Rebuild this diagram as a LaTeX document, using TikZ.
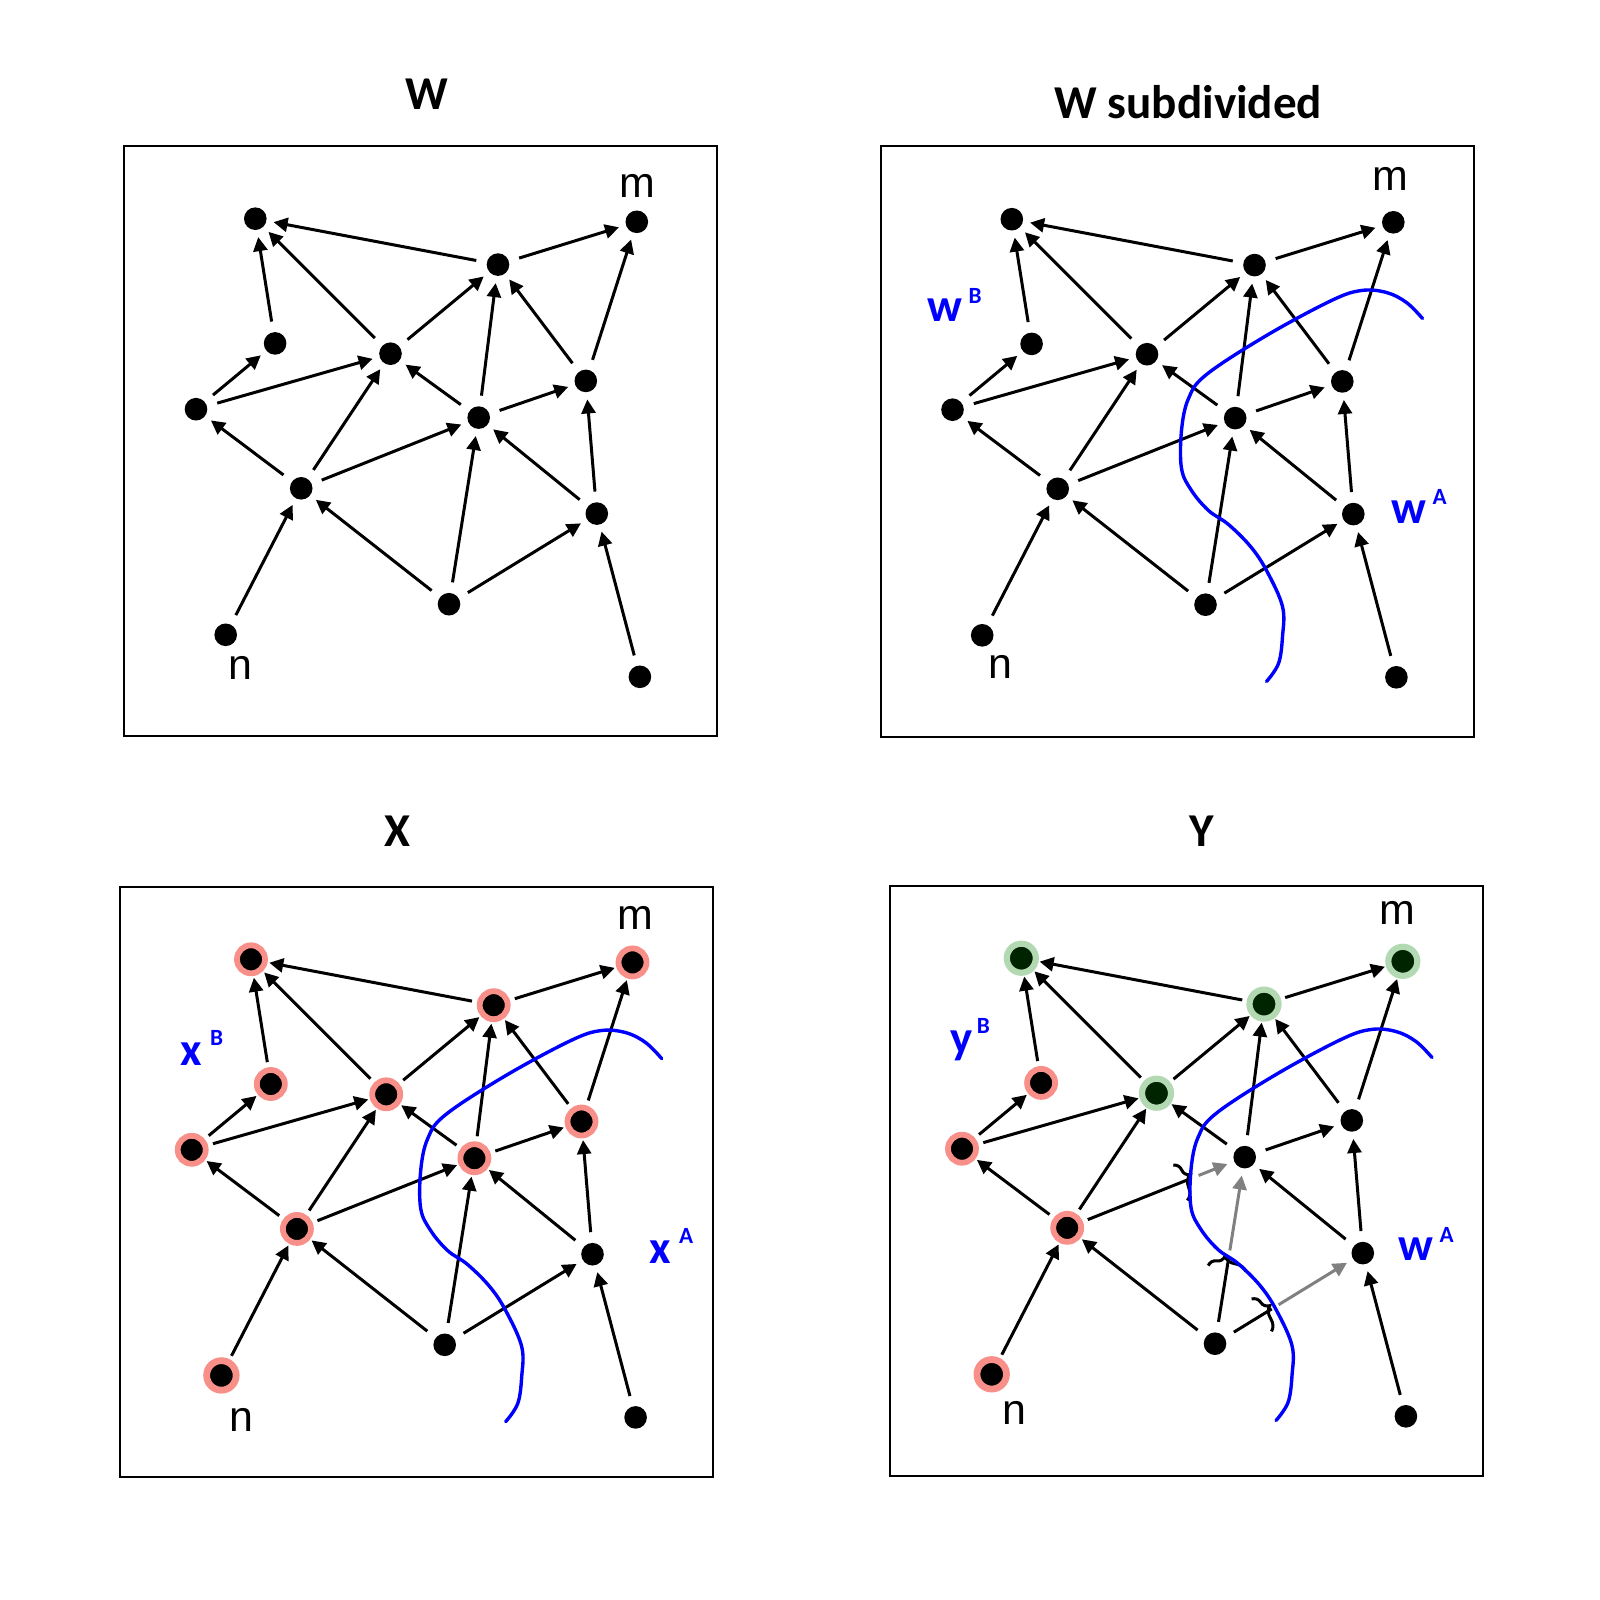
\documentclass[tikz,border=0pt]{standalone}
\usepackage{fontspec}
\setmainfont{Liberation Sans}
\newfontfamily\titrefont{Carlito}
\usetikzlibrary{arrows.meta,calc,decorations.pathreplacing}
\definecolor{RougeHalo}{RGB}{248,143,137}
\definecolor{VertHalo}{RGB}{178,217,178}
\definecolor{VertFonce}{RGB}{0,36,0}
\definecolor{GrisFleche}{RGB}{128,128,128}
\definecolor{BleuTrait}{RGB}{0,0,255}

\begin{document}
\begin{tikzpicture}[x=0.01cm,y=-0.01cm]
    \tikzset{PointStyle/.style =   {circle,fill=black,inner sep=0pt,minimum size=0.226cm,outer sep=0.108cm}}
    \tikzset{HaloRouge/.style =   {PointStyle,draw=RougeHalo,line width=0.058cm,minimum size=0.28cm,outer sep=0.081cm}}
    \tikzset{HaloRougeN/.style =   {PointStyle,draw=RougeHalo,line width=0.068cm,minimum size=0.295cm,outer sep=0.073cm}}
    \tikzset{HaloVert/.style =   {PointStyle,fill=VertFonce,draw=VertHalo,line width=0.062cm,minimum size=0.29cm,outer sep=0.076cm}}
    \tikzset{FlecheStyle/.style =   {line width=0.03cm,color=#1,shorten >=-0.035cm,-{Triangle[length=0.14cm,width=0.14cm]}}}
    \tikzset{Accolade/.style =   {line width=0.03cm,decorate,decoration={brace,amplitude=0.12cm,aspect=0.4}}}
    \tikzset{CourbeBleue/.style =   {line width=0.034cm,color=BleuTrait,line cap=round}}
    \tikzset{Cadre/.style =   {line width=0.02cm}}
    \tikzset{Titre/.style =   {inner sep=0pt,anchor=base,font=\titrefont\bfseries\fontsize{13.4}{16}\selectfont}}
    \tikzset{Lettre/.style =   {inner sep=0pt,font=\fontsize{12.2}{14}\selectfont}}
    \tikzset{Indice/.style =   {inner sep=0pt,anchor=base west,text=BleuTrait,font=\titrefont\bfseries\fontsize{13.3}{15}\selectfont}}
    % halos de X et Y
    \tikzset{x-a/.style=HaloRouge, x-b/.style=HaloRouge, x-m/.style=HaloRouge, x-c/.style=HaloRouge, x-d/.style=HaloRouge,
             x-e/.style=HaloRouge, x-f/.style=HaloRouge, x-g/.style=HaloRouge, x-h/.style=HaloRouge, x-n/.style=HaloRougeN}
    \tikzset{y-a/.style=HaloVert, y-b/.style=HaloVert, y-m/.style=HaloVert, y-d/.style=HaloVert,
             y-c/.style=HaloRouge, y-e/.style=HaloRouge, y-h/.style=HaloRouge, y-n/.style=HaloRougeN}

    \useasboundingbox (0,0) rectangle (1600,1600);

    \foreach \p/\dx/\dy in {w/0/0, ws/756.5/0.5, x/-4.3/740.6, y/766/739.5} {
      \begin{scope}[shift={(\dx,\dy)}]
        \draw[Cadre] (124,146) rectangle (717,736);
        \foreach \n/\px/\py in {a/255.3/218.7, b/498/264.6, m/636.8/221.8, c/275.1/343.4,
                                d/390.5/353.7, e/196/409.2, f/478.7/417.6, g/585.8/380.9,
                                h/301.2/488.3, i/596.8/513.6, j/449/604.2, n/225.7/634.8, k/639.9/676.8}
          \node[PointStyle,\p-\n/.try] (\p-\n) at (\px,\py) {};
        \foreach \src/\dst in {b/a, b/m, c/a, d/a, d/b, e/c, e/d, h/e, h/d, f/d,
                               f/b, f/g, g/b, g/m, i/f, i/g, j/h, n/h, k/i}
          \draw[FlecheStyle=black] (\p-\src) -- (\p-\dst);
      \end{scope}
    }

    \foreach \p in {w,ws,x}
      \foreach \src/\dst in {h/f, j/f, j/i}
        \draw[FlecheStyle=black] (\p-\src) -- (\p-\dst);

    % aretes coupees dans Y
    \foreach \src/\dst/\tc/\tg in {h/f/.70/.74, j/f/.466/.50, j/i/.384/.43} {
      \coordinate (y-\src\dst-cut) at ($(y-\src)!\tc!(y-\dst)$);
      \coordinate (y-\src\dst-go) at ($(y-\src)!\tg!(y-\dst)$);
      \coordinate (y-\src\dst-b) at ($(y-\src\dst-cut)!0.12cm!(y-\src)$);
      \draw[line width=0.03cm] (y-\src) -- (y-\src\dst-cut);
      \draw[Accolade] ($(y-\src\dst-b)!0.19cm!-90:(y-\src)$) -- ($(y-\src\dst-b)!0.19cm!90:(y-\src)$);
      \draw[FlecheStyle=GrisFleche] (y-\src\dst-go) -- (y-\dst);
    }

    \foreach \dx/\dy in {756.5/0.5, -4.3/740.6, 766/739.5}
      \draw[CourbeBleue,shift={(\dx,\dy)}] plot[smooth,tension=0.6] coordinates {(666,318) (650,302) (630,292) (605,290)
        (575,300) (510,335) (450,374) (432,398) (425,430) (425,468) (435,490) (452,510) (472,524) (494,546)
        (510,570) (526,606) (526,636) (522,663) (510,681)};

    \node[Titre] (tW) at (426.4,110) {W};
    \node[Titre] (tWs) at (1188.3,119) {W subdivided};
    \node[Titre] (tX) at (397.8,846) {X};
    \node[Titre] (tY) at (1201.6,846) {Y};

    \node[Lettre] (w-lm) at (637,186) {m};
    \node[Lettre] (w-ln) at (240,668) {n};
    \node[Lettre] (ws-lm) at (1390,178.5) {m};
    \node[Lettre] (ws-ln) at (1000.6,667) {n};
    \node[Lettre] (x-lm) at (635.5,918) {m};
    \node[Lettre] (x-ln) at (241,1419.5) {n};
    \node[Lettre] (y-lm) at (1397.4,913) {m};
    \node[Lettre] (y-ln) at (1014,1413) {n};

    \node[Indice] (ws-lb) at (927,321) {w\hspace{.06cm}\raisebox{.17cm}{\fontsize{6.6}{7}\selectfont B}};
    \node[Indice] (ws-la) at (1391,523) {w\hspace{.06cm}\raisebox{.18cm}{\fontsize{6.6}{7}\selectfont A}};
    \node[Indice] (x-lb) at (180,1065) {x\hspace{.08cm}\raisebox{.2cm}{\fontsize{6.6}{7}\selectfont B}};
    \node[Indice] (x-la) at (649,1263) {x\hspace{.08cm}\raisebox{.2cm}{\fontsize{6.6}{7}\selectfont A}};
    \node[Indice] (y-lb) at (950,1053) {y\hspace{.04cm}\raisebox{.19cm}{\fontsize{6.6}{7}\selectfont B}};
    \node[Indice] (y-la) at (1398,1260) {w\hspace{.06cm}\raisebox{.18cm}{\fontsize{6.6}{7}\selectfont A}};
\end{tikzpicture}
\end{document}
